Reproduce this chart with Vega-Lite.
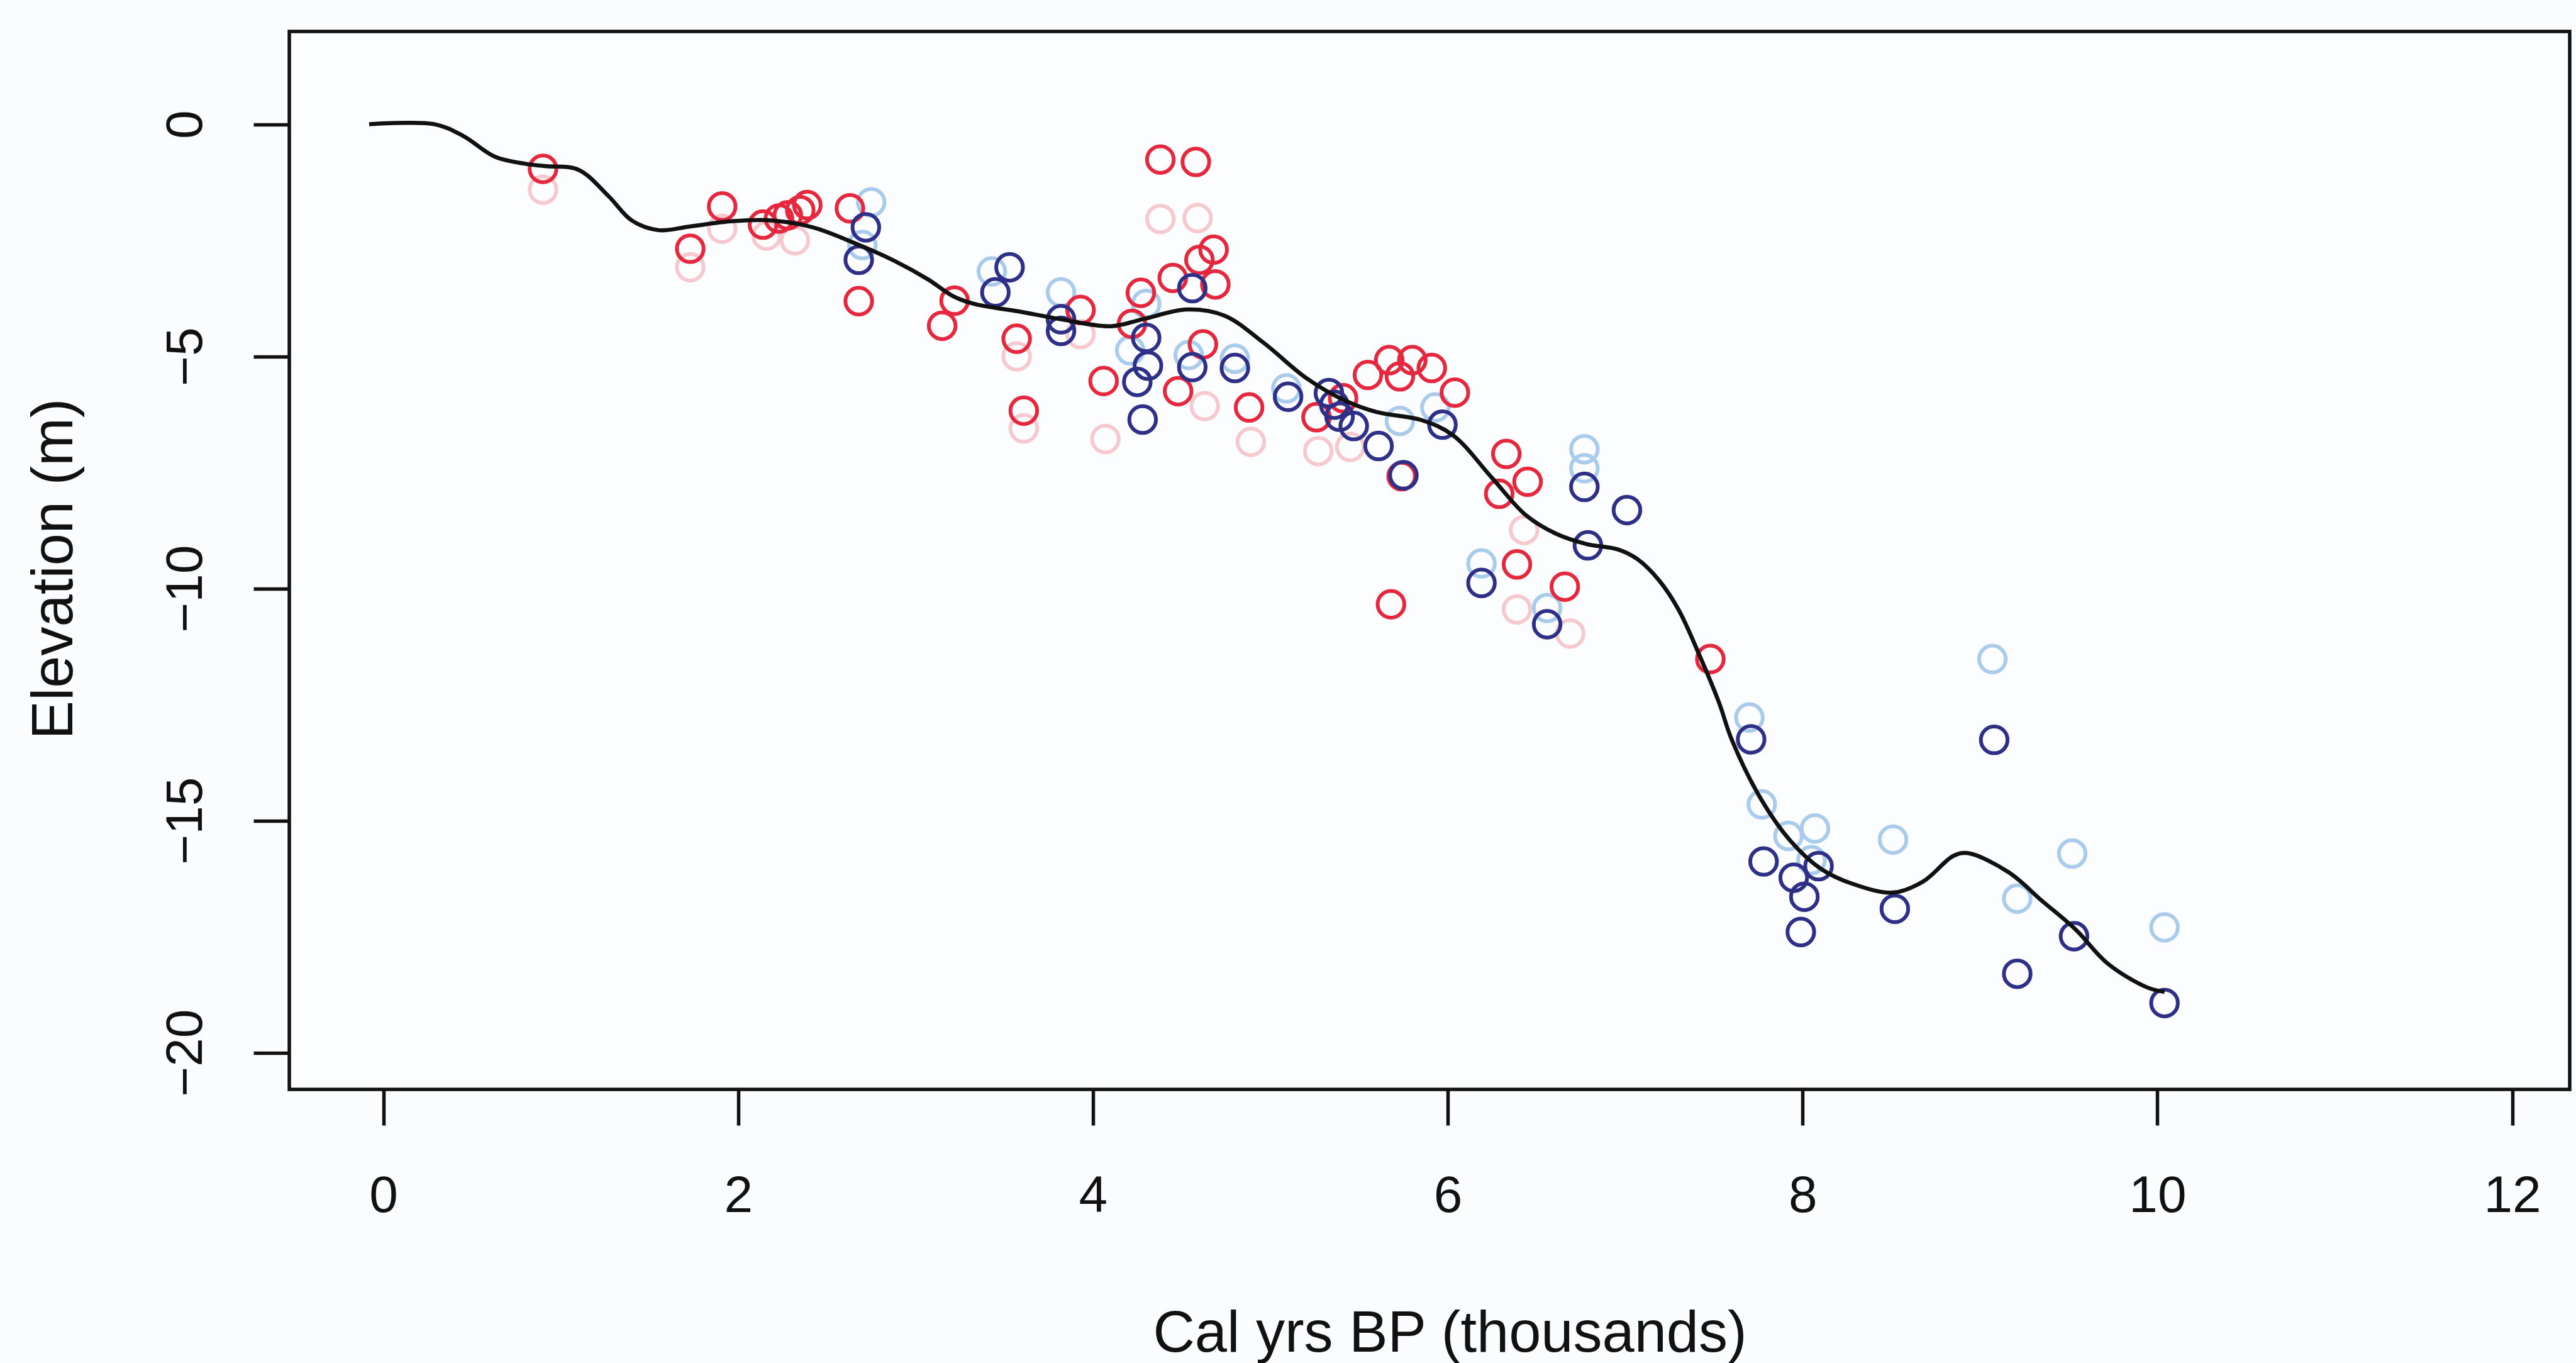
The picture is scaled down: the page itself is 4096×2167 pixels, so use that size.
{
  "$schema": "https://vega.github.io/schema/vega-lite/v6.json",
  "width": 3626,
  "height": 1682,
  "autosize": "none",
  "padding": {"left": 460, "top": 50, "right": 10, "bottom": 435},
  "background": "#FBFCFD",
  "config": {
    "font": "Liberation Sans",
    "view": {"stroke": "#111111", "strokeWidth": 5.5, "fill": "#FCFDFE"},
    "axis": {"grid": false, "domain": false, "tickColor": "#111111", "tickWidth": 5.5, "tickSize": 57, "labelColor": "#111111", "labelFontSize": 82, "titleColor": "#111111", "titleFontSize": 92, "titleFontWeight": "normal", "labelFont": "Liberation Sans", "titleFont": "Liberation Sans"}
  },
  "datasets": {
    "pts": [
      {"x": 0.90, "y": -1.41, "s": "pink"},
      {"x": 1.73, "y": -3.08, "s": "pink"},
      {"x": 1.91, "y": -2.25, "s": "pink"},
      {"x": 2.16, "y": -2.40, "s": "pink"},
      {"x": 2.32, "y": -2.50, "s": "pink"},
      {"x": 3.57, "y": -5.00, "s": "pink"},
      {"x": 3.61, "y": -6.55, "s": "pink"},
      {"x": 3.93, "y": -4.52, "s": "pink"},
      {"x": 4.07, "y": -6.78, "s": "pink"},
      {"x": 4.38, "y": -2.04, "s": "pink"},
      {"x": 4.59, "y": -2.02, "s": "pink"},
      {"x": 4.63, "y": -6.07, "s": "pink"},
      {"x": 4.89, "y": -6.84, "s": "pink"},
      {"x": 5.27, "y": -7.04, "s": "pink"},
      {"x": 5.45, "y": -6.95, "s": "pink"},
      {"x": 6.43, "y": -8.74, "s": "pink"},
      {"x": 6.39, "y": -10.45, "s": "pink"},
      {"x": 6.69, "y": -10.97, "s": "pink"},
      {"x": 2.75, "y": -1.68, "s": "light"},
      {"x": 2.70, "y": -2.60, "s": "light"},
      {"x": 3.43, "y": -3.17, "s": "light"},
      {"x": 3.82, "y": -3.62, "s": "light"},
      {"x": 4.30, "y": -3.87, "s": "light"},
      {"x": 4.21, "y": -4.87, "s": "light"},
      {"x": 4.54, "y": -4.97, "s": "light"},
      {"x": 4.80, "y": -5.05, "s": "light"},
      {"x": 5.09, "y": -5.69, "s": "light"},
      {"x": 5.73, "y": -6.39, "s": "light"},
      {"x": 5.93, "y": -6.10, "s": "light"},
      {"x": 6.19, "y": -9.46, "s": "light"},
      {"x": 6.77, "y": -7.00, "s": "light"},
      {"x": 6.77, "y": -7.41, "s": "light"},
      {"x": 6.56, "y": -10.42, "s": "light"},
      {"x": 7.70, "y": -12.78, "s": "light"},
      {"x": 7.77, "y": -14.65, "s": "light"},
      {"x": 7.92, "y": -15.33, "s": "light"},
      {"x": 8.07, "y": -15.17, "s": "light"},
      {"x": 8.05, "y": -15.85, "s": "light"},
      {"x": 8.51, "y": -15.41, "s": "light"},
      {"x": 9.07, "y": -11.52, "s": "light"},
      {"x": 9.21, "y": -16.68, "s": "light"},
      {"x": 9.52, "y": -15.71, "s": "light"},
      {"x": 10.04, "y": -17.30, "s": "light"},
      {"x": 0.90, "y": -0.96, "s": "red"},
      {"x": 1.73, "y": -2.68, "s": "red"},
      {"x": 1.91, "y": -1.77, "s": "red"},
      {"x": 2.14, "y": -2.16, "s": "red"},
      {"x": 2.23, "y": -2.03, "s": "red"},
      {"x": 2.28, "y": -1.96, "s": "red"},
      {"x": 2.35, "y": -1.85, "s": "red"},
      {"x": 2.39, "y": -1.74, "s": "red"},
      {"x": 2.63, "y": -1.81, "s": "red"},
      {"x": 2.68, "y": -3.81, "s": "red"},
      {"x": 3.22, "y": -3.80, "s": "red"},
      {"x": 3.15, "y": -4.34, "s": "red"},
      {"x": 3.57, "y": -4.62, "s": "red"},
      {"x": 3.61, "y": -6.17, "s": "red"},
      {"x": 3.93, "y": -4.00, "s": "red"},
      {"x": 4.06, "y": -5.53, "s": "red"},
      {"x": 4.22, "y": -4.30, "s": "red"},
      {"x": 4.27, "y": -3.63, "s": "red"},
      {"x": 4.38, "y": -0.76, "s": "red"},
      {"x": 4.58, "y": -0.81, "s": "red"},
      {"x": 4.45, "y": -3.31, "s": "red"},
      {"x": 4.60, "y": -2.92, "s": "red"},
      {"x": 4.68, "y": -2.70, "s": "red"},
      {"x": 4.69, "y": -3.45, "s": "red"},
      {"x": 4.62, "y": -4.74, "s": "red"},
      {"x": 4.48, "y": -5.75, "s": "red"},
      {"x": 4.88, "y": -6.10, "s": "red"},
      {"x": 5.26, "y": -6.31, "s": "red"},
      {"x": 5.41, "y": -5.90, "s": "red"},
      {"x": 5.55, "y": -5.40, "s": "red"},
      {"x": 5.67, "y": -5.08, "s": "red"},
      {"x": 5.73, "y": -5.43, "s": "red"},
      {"x": 5.80, "y": -5.08, "s": "red"},
      {"x": 5.91, "y": -5.25, "s": "red"},
      {"x": 6.04, "y": -5.78, "s": "red"},
      {"x": 5.74, "y": -7.58, "s": "red"},
      {"x": 5.68, "y": -10.34, "s": "red"},
      {"x": 6.33, "y": -7.10, "s": "red"},
      {"x": 6.45, "y": -7.70, "s": "red"},
      {"x": 6.29, "y": -7.96, "s": "red"},
      {"x": 6.39, "y": -9.48, "s": "red"},
      {"x": 6.66, "y": -9.96, "s": "red"},
      {"x": 7.48, "y": -11.52, "s": "red"},
      {"x": 2.72, "y": -2.22, "s": "navy"},
      {"x": 2.68, "y": -2.92, "s": "navy"},
      {"x": 3.45, "y": -3.62, "s": "navy"},
      {"x": 3.53, "y": -3.08, "s": "navy"},
      {"x": 3.82, "y": -4.20, "s": "navy"},
      {"x": 3.82, "y": -4.45, "s": "navy"},
      {"x": 4.30, "y": -4.60, "s": "navy"},
      {"x": 4.31, "y": -5.20, "s": "navy"},
      {"x": 4.25, "y": -5.55, "s": "navy"},
      {"x": 4.28, "y": -6.36, "s": "navy"},
      {"x": 4.56, "y": -3.53, "s": "navy"},
      {"x": 4.56, "y": -5.23, "s": "navy"},
      {"x": 4.80, "y": -5.25, "s": "navy"},
      {"x": 5.10, "y": -5.87, "s": "navy"},
      {"x": 5.33, "y": -5.79, "s": "navy"},
      {"x": 5.36, "y": -6.04, "s": "navy"},
      {"x": 5.39, "y": -6.30, "s": "navy"},
      {"x": 5.47, "y": -6.50, "s": "navy"},
      {"x": 5.61, "y": -6.93, "s": "navy"},
      {"x": 5.75, "y": -7.56, "s": "navy"},
      {"x": 5.97, "y": -6.47, "s": "navy"},
      {"x": 6.19, "y": -9.88, "s": "navy"},
      {"x": 6.77, "y": -7.81, "s": "navy"},
      {"x": 7.01, "y": -8.31, "s": "navy"},
      {"x": 6.79, "y": -9.07, "s": "navy"},
      {"x": 6.56, "y": -10.77, "s": "navy"},
      {"x": 7.71, "y": -13.25, "s": "navy"},
      {"x": 7.78, "y": -15.88, "s": "navy"},
      {"x": 8.09, "y": -15.98, "s": "navy"},
      {"x": 7.95, "y": -16.23, "s": "navy"},
      {"x": 8.01, "y": -16.64, "s": "navy"},
      {"x": 7.99, "y": -17.40, "s": "navy"},
      {"x": 8.52, "y": -16.90, "s": "navy"},
      {"x": 9.08, "y": -13.26, "s": "navy"},
      {"x": 9.21, "y": -18.30, "s": "navy"},
      {"x": 9.53, "y": -17.49, "s": "navy"},
      {"x": 10.04, "y": -18.93, "s": "navy"}
    ],
    "curve": [
      {"x": -0.08, "y": 0}, {"x": 0.29, "y": 0}, {"x": 0.45, "y": -0.25}, {"x": 0.63, "y": -0.7},
      {"x": 0.80, "y": -0.85}, {"x": 0.91, "y": -0.9}, {"x": 1.10, "y": -0.98}, {"x": 1.27, "y": -1.55},
      {"x": 1.40, "y": -2.07}, {"x": 1.55, "y": -2.28}, {"x": 1.73, "y": -2.2}, {"x": 1.96, "y": -2.09},
      {"x": 2.19, "y": -2.07}, {"x": 2.42, "y": -2.22}, {"x": 2.65, "y": -2.55}, {"x": 2.88, "y": -2.94},
      {"x": 3.07, "y": -3.34}, {"x": 3.21, "y": -3.7}, {"x": 3.33, "y": -3.87}, {"x": 3.58, "y": -4.03},
      {"x": 3.82, "y": -4.2}, {"x": 4.10, "y": -4.35}, {"x": 4.28, "y": -4.2}, {"x": 4.53, "y": -3.99},
      {"x": 4.74, "y": -4.12}, {"x": 4.96, "y": -4.7}, {"x": 5.20, "y": -5.46}, {"x": 5.42, "y": -5.95},
      {"x": 5.60, "y": -6.2}, {"x": 5.85, "y": -6.37}, {"x": 6.03, "y": -6.7}, {"x": 6.25, "y": -7.62},
      {"x": 6.44, "y": -8.42}, {"x": 6.61, "y": -8.82}, {"x": 6.78, "y": -9.04}, {"x": 6.96, "y": -9.16},
      {"x": 7.07, "y": -9.37}, {"x": 7.19, "y": -9.82}, {"x": 7.30, "y": -10.45}, {"x": 7.42, "y": -11.45},
      {"x": 7.53, "y": -12.47}, {"x": 7.60, "y": -13.25}, {"x": 7.76, "y": -14.5}, {"x": 7.93, "y": -15.43},
      {"x": 8.10, "y": -16.03}, {"x": 8.28, "y": -16.36}, {"x": 8.51, "y": -16.55}, {"x": 8.68, "y": -16.31},
      {"x": 8.85, "y": -15.76}, {"x": 8.93, "y": -15.7}, {"x": 9.16, "y": -16.11}, {"x": 9.35, "y": -16.73},
      {"x": 9.54, "y": -17.35}, {"x": 9.72, "y": -18.08}, {"x": 9.94, "y": -18.59}, {"x": 10.04, "y": -18.69}
    ]
  },
  "encoding": {
    "x": {"field": "x", "type": "quantitative",
      "scale": {"domain": [-0.53, 12.324], "nice": false, "zero": false},
      "axis": {"values": [0, 2, 4, 6, 8, 10, 12], "format": "d", "title": "Cal yrs BP (thousands)",
        "labelBaseline": "alphabetic", "labelPadding": 137, "labelFlush": false,
        "titleX": 1845, "titleY": 416, "titleBaseline": "alphabetic", "titleAlign": "center"}},
    "y": {"field": "y", "type": "quantitative",
      "scale": {"domain": [-20.79, 2.0], "nice": false, "zero": false},
      "axis": {"values": [0, -5, -10, -15, -20], "format": "d", "title": "Elevation (m)",
        "labelAngle": -90, "labelAlign": "center", "labelBaseline": "alphabetic", "labelPadding": 83, "labelFlush": false,
        "titleAngle": -90, "titleX": -346, "titleY": 854, "titleBaseline": "alphabetic", "titleAlign": "center"}}
  },
  "layer": [
    {
      "data": {"name": "pts"},
      "mark": {"type": "point", "shape": "circle", "filled": false, "size": 1800, "strokeWidth": 6, "opacity": 1},
      "encoding": {
        "color": {"field": "s", "type": "nominal", "legend": null,
          "scale": {"domain": ["pink", "light", "red", "navy"], "range": ["#F6C9CF", "#A9CCEC", "#E5283D", "#2E2F86"]}}
      }
    },
    {
      "data": {"name": "curve"},
      "mark": {"type": "line", "color": "#111111", "strokeWidth": 6.5, "interpolate": "catmull-rom"},
      "encoding": {}
    }
  ]
}
